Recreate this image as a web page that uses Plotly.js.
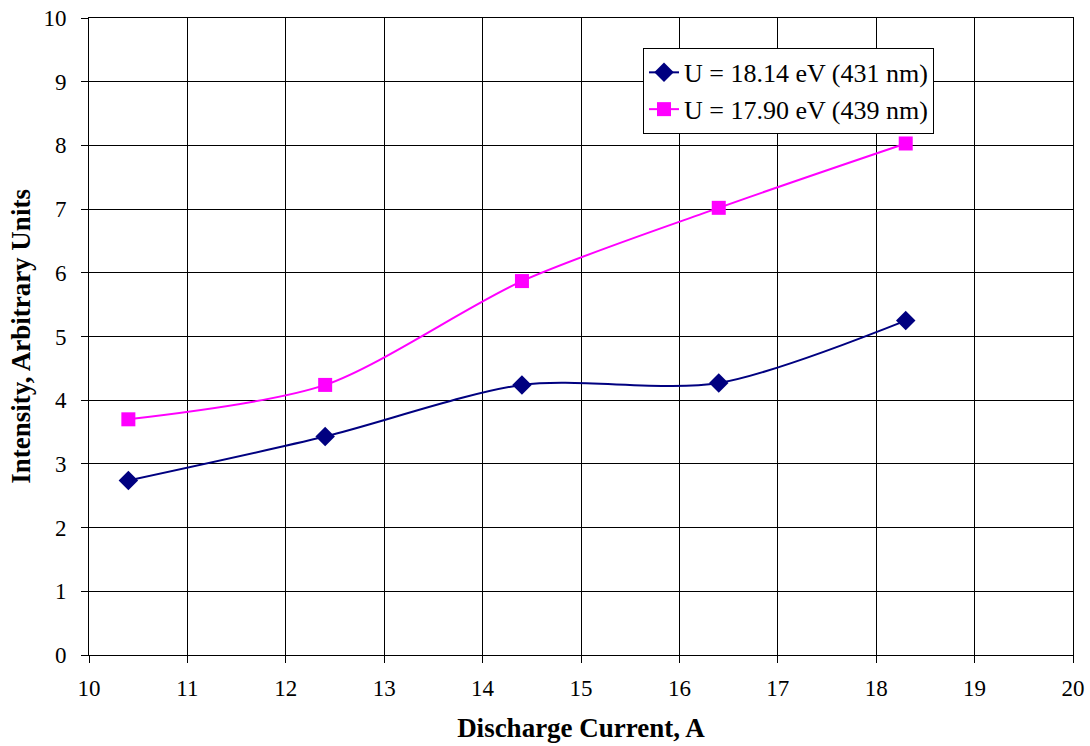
<!DOCTYPE html>
<html>
<head>
<meta charset="utf-8">
<script src="https://cdn.plot.ly/plotly-3.0.1.min.js"></script>
<style>html,body{margin:0;padding:0;background:#fff;}</style>
</head>
<body>
<div id="chart" style="width:1090px;height:746px;"></div>
<script>
const currentA = [10.4, 12.4, 14.4, 16.4, 18.3];
const intensity431 = [2.74, 3.43, 4.24, 4.27, 5.25];
const intensity439 = [3.70, 4.24, 5.87, 7.02, 8.03];
const name431 = "U = 18.14 eV (431 nm)";
const name439 = "U = 17.90 eV (439 nm)";
const xTitle = "Discharge Current, A";
const yTitle = "Intensity, Arbitrary Units";

const traces = [
  {x: currentA, y: intensity431, name: name431, mode: "lines+markers", type: "scatter",
   line: {color: "#000080", width: 2, shape: "spline", smoothing: 0.8},
   marker: {symbol: "diamond", size: 15, color: "#000080"}},
  {x: currentA, y: intensity439, name: name439, mode: "lines+markers", type: "scatter",
   line: {color: "#FF00FF", width: 2, shape: "spline", smoothing: 0.8},
   marker: {symbol: "square", size: 14, color: "#FF00FF"}}
];
const fam = "'Liberation Serif', 'Times New Roman', Times, serif";
const layout = {
  width: 1090, height: 746,
  margin: {l: 89, r: 17, t: 18, b: 91},
  paper_bgcolor: "#fff", plot_bgcolor: "#fff",
  font: {family: fam, size: 23, color: "#000"},
  showlegend: true,
  legend: {x: 0.563, y: 0.953, xanchor: "left", yanchor: "top",
    bgcolor: "#fff", bordercolor: "#000", borderwidth: 1,
    font: {family: fam, size: 26, color: "#000"}, tracegroupgap: 0},
  xaxis: {range: [10, 20], dtick: 1, tick0: 10, showgrid: true, gridcolor: "#000", gridwidth: 1,
    showline: true, linecolor: "#000", linewidth: 1, mirror: true,
    ticks: "outside", ticklen: 7, tickcolor: "#000", zeroline: false,
    ticklabelstandoff: 5,
    tickfont: {family: fam, size: 23, color: "#000"},
    title: {text: "<b>" + xTitle + "</b>", font: {family: fam, size: 27, color: "#000"}, standoff: 18}},
  yaxis: {range: [0, 10], dtick: 1, tick0: 0, showgrid: true, gridcolor: "#000", gridwidth: 1,
    showline: true, linecolor: "#000", linewidth: 1, mirror: true,
    ticks: "outside", ticklen: 7, tickcolor: "#000", zeroline: false,
    ticklabelstandoff: 10,
    tickfont: {family: fam, size: 23, color: "#000"},
    title: {text: "<b>" + yTitle + "</b>", font: {family: fam, size: 27, color: "#000"}, standoff: 4}}
};
Plotly.newPlot("chart", traces, layout, {displayModeBar: false, staticPlot: true});
</script>
</body>
</html>
